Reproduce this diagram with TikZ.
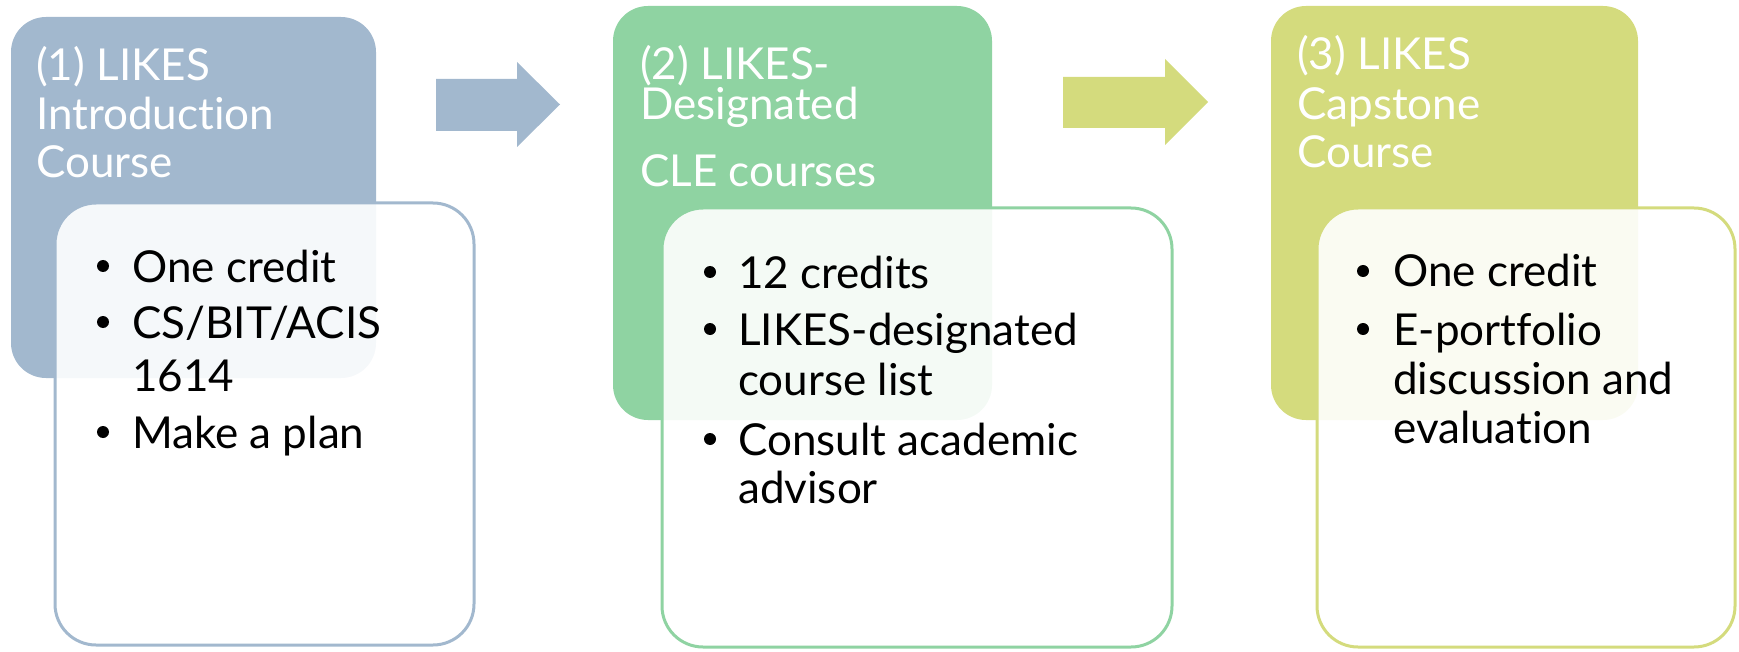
\documentclass[tikz,border=0pt]{standalone}
\usepackage{fontspec}
\setmainfont[Ligatures={NoCommon}]{Lato}
\definecolor{cA}{HTML}{A2B8CE}
\definecolor{cB}{HTML}{8FD3A2}
\definecolor{cC}{HTML}{D4DB7D}
\tikzset{
  head/.style={rounded corners=35pt, inner sep=0pt, outer sep=0pt, anchor=north west},
  card/.style={rounded corners=41pt, inner sep=0pt, outer sep=0pt, anchor=north west,
               fill=white, fill opacity=0.9, line width=3pt},
  hdtxt/.style={text=white, font=\fontsize{44}{48}\selectfont, anchor=base west, inner sep=0pt},
  bdtxt/.style={text=black, font=\fontsize{44}{48}\selectfont, anchor=base west, inner sep=0pt},
  bul/.style={circle, fill=black, minimum size=12pt, inner sep=0pt},
}
\begin{document}
\begin{tikzpicture}[x=1pt,y=-1pt]
\useasboundingbox (0,0) rectangle (1739,652);
% boxes
\node[head, fill=cA, minimum width=365pt, minimum height=361pt] (h1) at (11,17) {};
\node[card, draw=cA, minimum width=419pt, minimum height=442pt] (c1) at (55,203) {};
\node[head, fill=cB, minimum width=379pt, minimum height=414pt] (h2) at (613,6) {};
\node[card, draw=cB, minimum width=510pt, minimum height=439pt] (c2) at (662,208) {};
\node[head, fill=cC, minimum width=367pt, minimum height=414pt] (h3) at (1271,6) {};
\node[card, draw=cC, minimum width=418pt, minimum height=439pt] (c3) at (1317,208) {};
% arrows
\fill[cA] (436,79) -- (517,79) -- (517,62) -- (560,104.5) -- (517,147) -- (517,131) -- (436,131) -- cycle;
\fill[cC] (1063,77) -- (1165,77) -- (1165,59) -- (1208,102) -- (1165,145) -- (1165,128) -- (1063,128) -- cycle;
% header texts
\node[hdtxt] (t11) at (36,81) {(1) LIKES};
\node[hdtxt] (t12) at (36,130) {Introduction};
\node[hdtxt] (t13) at (36,178) {Course};
\node[hdtxt] (t21) at (640,80) {(2) LIKES-};
\node[hdtxt] (t22) at (640,120) {Designated};
\node[hdtxt] (t23) at (640,187) {CLE courses};
\node[hdtxt] (t31) at (1297,70) {(3) LIKES};
\node[hdtxt] (t32) at (1297,120) {Capstone};
\node[hdtxt] (t33) at (1297,168) {Course};
% body box 1
\node[bul] (b11) at (103,266) {};
\node[bdtxt] (s11) at (132,282) {One credit};
\node[bul] (b12) at (103,322) {};
\node[bdtxt] (s12) at (132,338) {CS/BIT/ACIS};
\node[bdtxt] (s13) at (132,391) {1614};
\node[bul] (b14) at (103,432) {};
\node[bdtxt] (s14) at (132,448) {Make a plan};
% body box 2
\node[bul] (b21) at (710,272) {};
\node[bdtxt] (s21) at (738,288) {12 credits};
\node[bul] (b22) at (710,329) {};
\node[bdtxt] (s22) at (738,345) {LIKES-designated};
\node[bdtxt] (s23) at (738,395) {course list};
\node[bul] (b24) at (710,439) {};
\node[bdtxt] (s24) at (738,455) {Consult academic};
\node[bdtxt] (s25) at (738,503) {advisor};
% body box 3
\node[bul] (b31) at (1363,271) {};
\node[bdtxt] (s31) at (1393,287) {One credit};
\node[bul] (b32) at (1363,329) {};
\node[bdtxt] (s32) at (1393,345) {E-portfolio};
\node[bdtxt] (s33) at (1393,394) {discussion and};
\node[bdtxt] (s34) at (1393,443) {evaluation};
\end{tikzpicture}
\end{document}
